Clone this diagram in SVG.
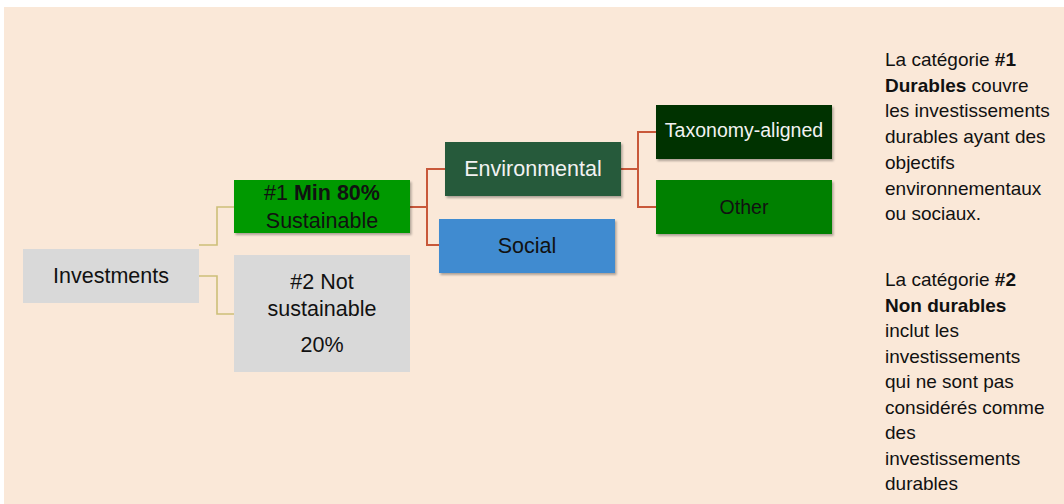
<svg xmlns="http://www.w3.org/2000/svg" width="1064" height="504" viewBox="0 0 1064 504">
<defs>
<filter id="sh" x="-10%" y="-10%" width="130%" height="140%">
<feDropShadow dx="1.5" dy="2" stdDeviation="1.2" flood-color="#000" flood-opacity="0.3"/>
</filter>
</defs>
<style>
text{font-family:"Liberation Sans",Arial,sans-serif;}
.lbl{font-size:21.5px;text-anchor:middle;fill:#111;}
.sm{font-size:19.5px;text-anchor:middle;}
.note{font-size:19px;fill:#111;}
.y{fill:none;stroke:#CDBF78;stroke-width:1.6;}
.r{fill:none;stroke:#C8583A;stroke-width:2;}
.b{font-weight:bold;}
</style>
<rect x="0" y="0" width="1064" height="504" fill="#ffffff"/>
<rect x="4" y="7" width="1060" height="497" fill="#FAE8D8"/>

<g id="connectors">
<polyline class="y" points="199,245 217,245 217,207 234,207"/>
<polyline class="y" points="199,276 217,276 217,314 234,314"/>
<polyline class="r" points="410,207 427,207"/>
<polyline class="r" points="445,169 427,169 427,245 439,245"/>
<polyline class="r" points="621,169 638,169"/>
<polyline class="r" points="656,132 638,132 638,207 656,207"/>
</g>

<g id="investments">
<rect x="23" y="249" width="176" height="54" fill="#D9D9D9"/>
<text class="lbl" x="111" y="283">Investments</text>
</g>

<g id="sustainable">
<rect x="234" y="180" width="176" height="53" fill="#009900" filter="url(#sh)"/>
<text class="lbl" x="322" y="200">#1 <tspan class="b">Min 80%</tspan></text>
<text class="lbl" x="322" y="228">Sustainable</text>
</g>

<g id="notsustainable">
<rect x="234" y="255" width="176" height="117" fill="#D9D9D9"/>
<text class="lbl" x="322" y="289">#2 Not</text>
<text class="lbl" x="322" y="316">sustainable</text>
<text class="lbl" x="322" y="352">20%</text>
</g>

<g id="environmental">
<rect x="445" y="142" width="176" height="54" fill="#265A3A" filter="url(#sh)"/>
<text class="lbl" x="533" y="176" style="fill:#F2F2F2">Environmental</text>
</g>

<g id="social">
<rect x="439" y="219" width="176" height="54" fill="#3F8BD0" filter="url(#sh)"/>
<text class="lbl" x="527" y="253">Social</text>
</g>

<g id="taxonomy">
<rect x="656" y="105" width="176" height="54" fill="#003300" filter="url(#sh)"/>
<text class="sm" x="744" y="137" style="fill:#F2F2F2">Taxonomy-aligned</text>
</g>

<g id="other">
<rect x="656" y="180" width="176" height="54" fill="#008000" filter="url(#sh)"/>
<text class="sm" x="744" y="214" style="fill:#111">Other</text>
</g>

<g id="note1">
<text class="note" x="885" y="66">La catégorie <tspan class="b">#1</tspan></text>
<text class="note" x="885" y="91.5"><tspan class="b">Durables</tspan> couvre</text>
<text class="note" x="885" y="117">les investissements</text>
<text class="note" x="885" y="143">durables ayant des</text>
<text class="note" x="885" y="169">objectifs</text>
<text class="note" x="885" y="194.5">environnementaux</text>
<text class="note" x="885" y="220">ou sociaux.</text>
</g>

<g id="note2">
<text class="note" x="885" y="286">La catégorie <tspan class="b">#2</tspan></text>
<text class="note" x="885" y="311.5"><tspan class="b">Non durables</tspan></text>
<text class="note" x="885" y="337">inclut les</text>
<text class="note" x="885" y="362.5">investissements</text>
<text class="note" x="885" y="388">qui ne sont pas</text>
<text class="note" x="885" y="413.5">considérés comme</text>
<text class="note" x="885" y="439">des</text>
<text class="note" x="885" y="464.5">investissements</text>
<text class="note" x="885" y="490">durables</text>
</g>
</svg>
